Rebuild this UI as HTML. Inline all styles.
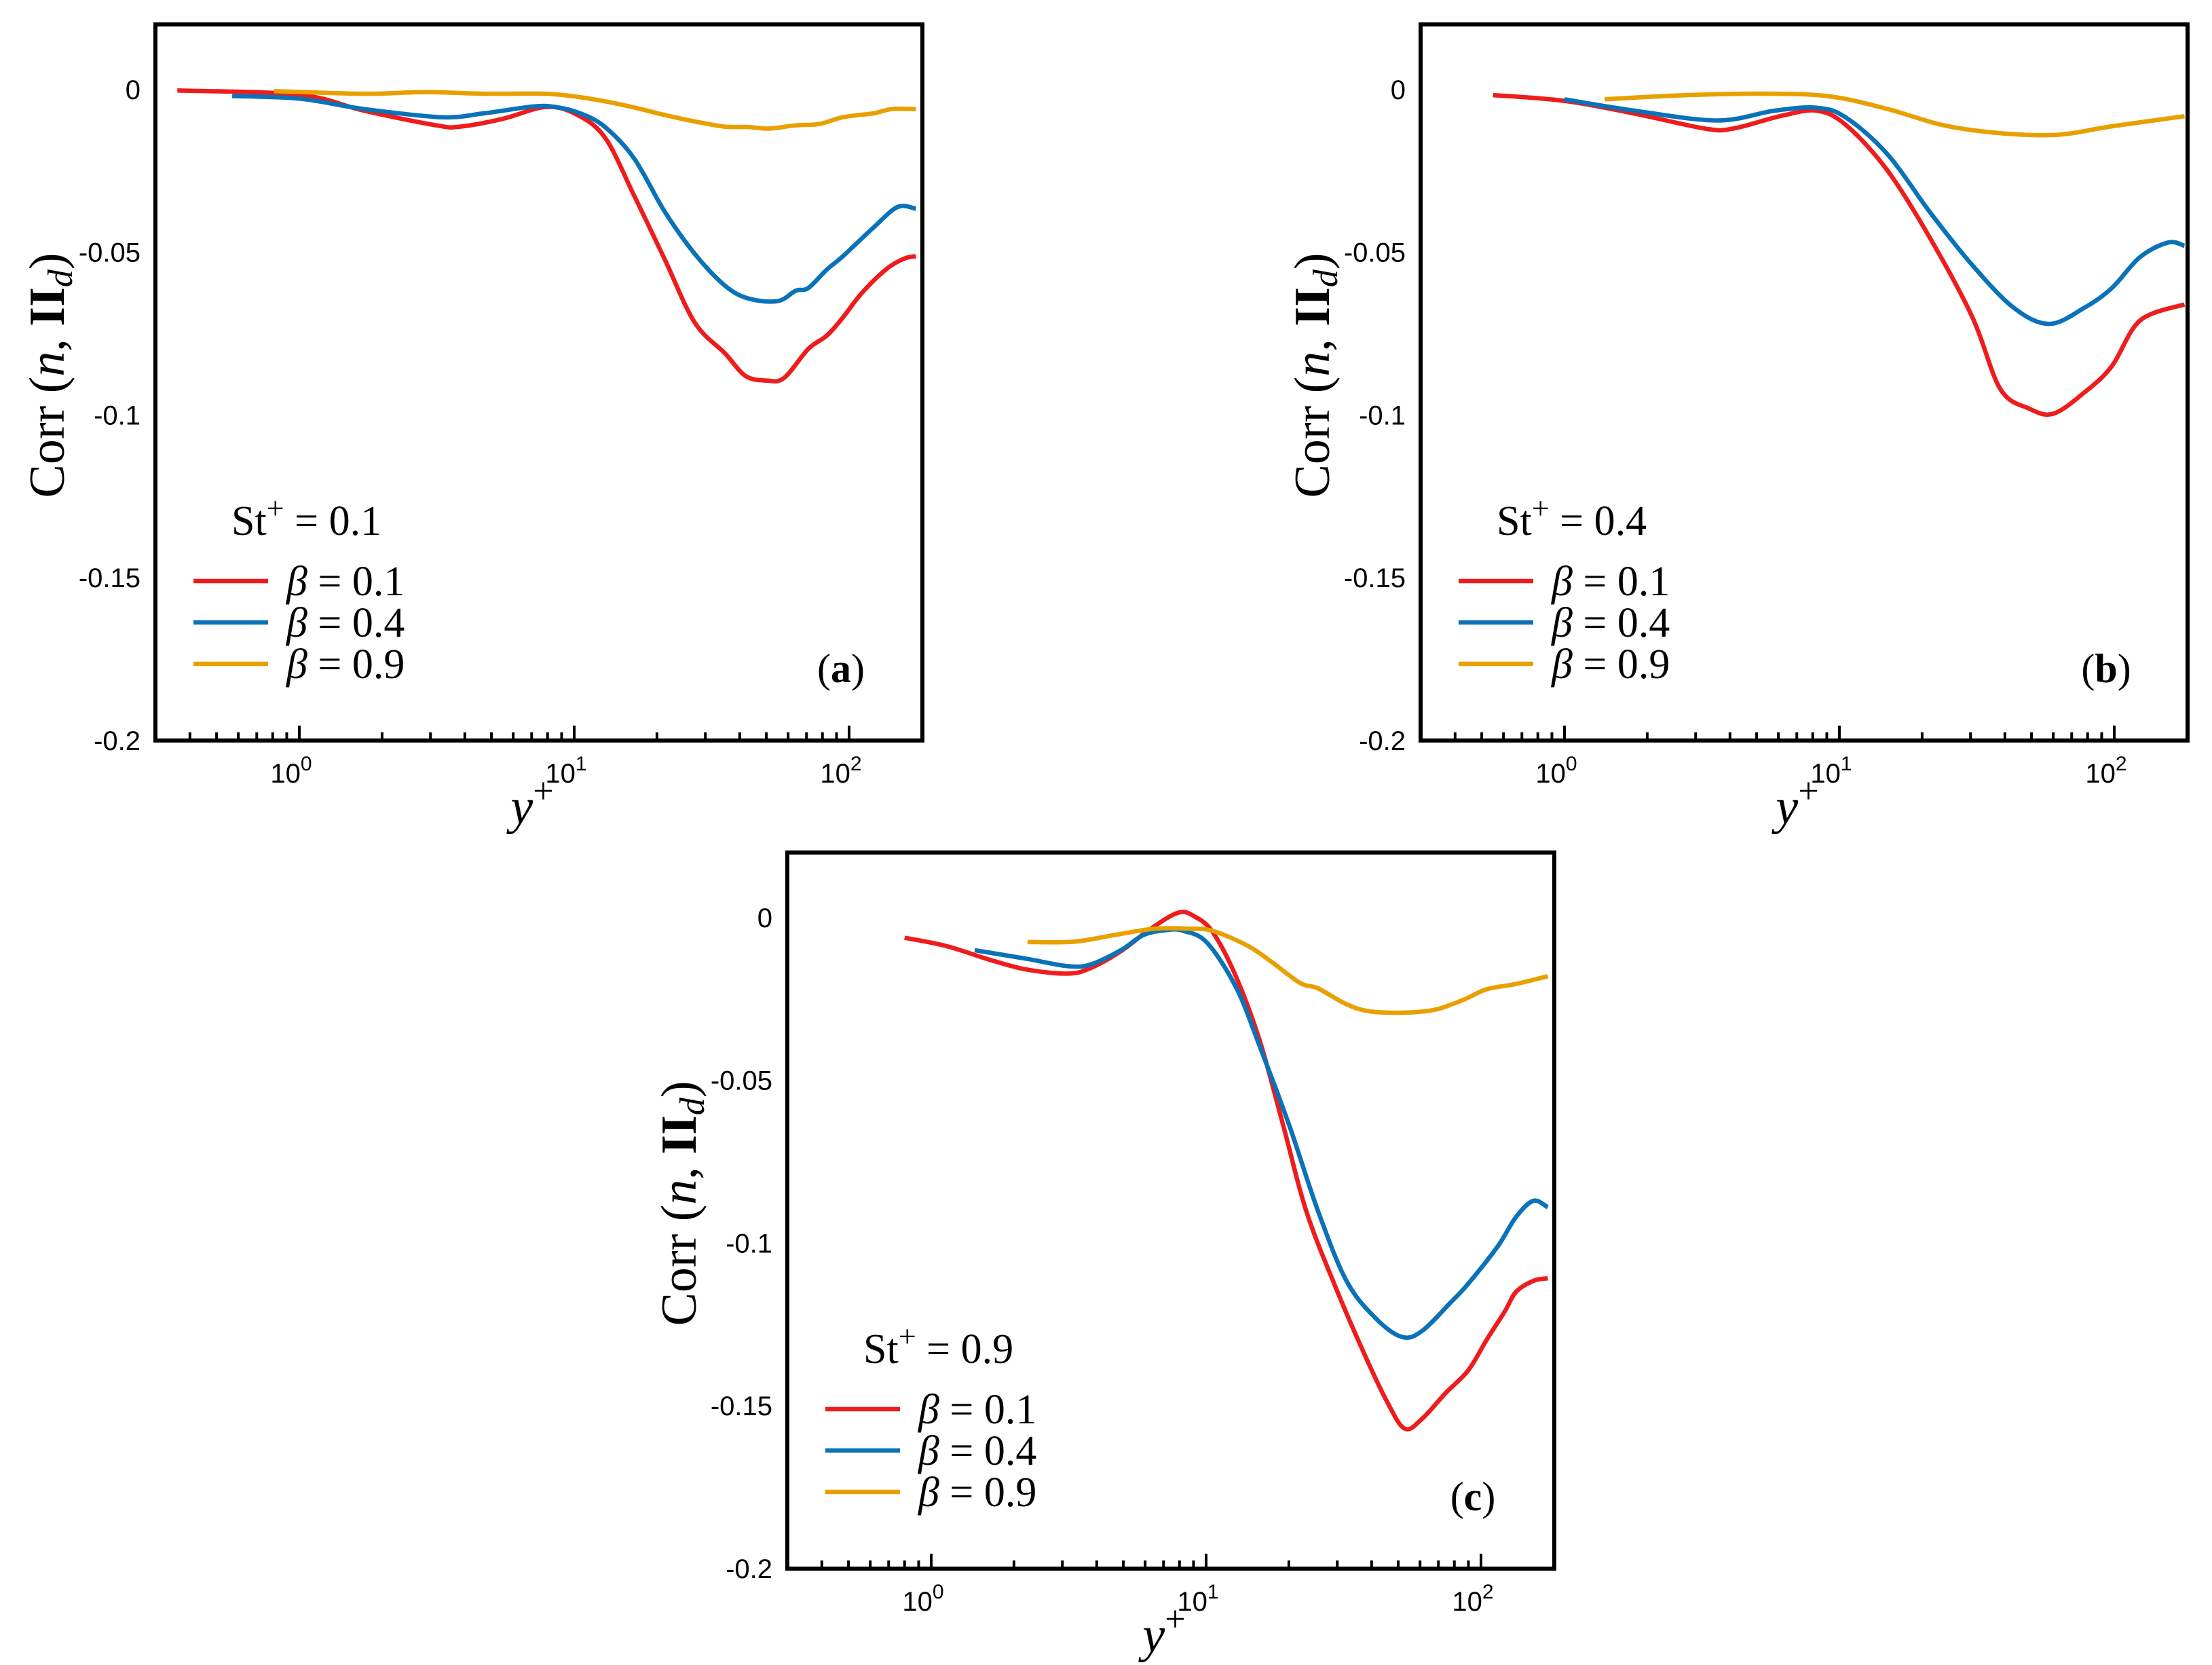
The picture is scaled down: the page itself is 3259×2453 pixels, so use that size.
<!DOCTYPE html>
<html><head><meta charset="utf-8">
<style>
html,body{margin:0;padding:0;background:#fff;}
svg{display:block;}
.tick{font-family:"Liberation Sans",sans-serif;font-size:40px;fill:#000;}
.ser{font-family:"Liberation Serif",serif;fill:#000;}
</style></head>
<body>
<svg id="fig" width="3259" height="2453" viewBox="0 0 3259 2453" xmlns="http://www.w3.org/2000/svg"></svg>
<script>
// ---------- data ----------
const panelLabels = ["(a)", "(b)", "(c)"];
const stLabels = ["0.1", "0.4", "0.9"];
const betaLabels = ["0.1", "0.4", "0.9"];
const seriesColors = ["#ee1c1c", "#0a72b8", "#e8a000"];
const yTicks = [0, -0.05, -0.1, -0.15, -0.2];
const yTickLabels = ["0", "-0.05", "-0.1", "-0.15", "-0.2"];
const xDecades = [0, 1, 2];

// panel a
const aRedX = [0.36,1,1.72,3.15,3.84,5.5,7.8,10,12.9,16.5,21.3,27.4,35.3,42,50,58,71,83,95,111,136,158,175];
const aRedY = [-0.0003,-0.0016,-0.0065,-0.011,-0.0114,-0.009,-0.0054,-0.0073,-0.0146,-0.0325,-0.052,-0.0715,-0.081,-0.088,-0.0894,-0.0886,-0.0797,-0.0756,-0.07,-0.0626,-0.0553,-0.052,-0.0512];
const aBlueX = [0.57,1,1.72,3.3,4.7,7.1,8.6,10.5,12.9,16.5,21.3,27.4,35.3,43,55,64,71,83,95,123,150,175];
const aBlueY = [-0.002,-0.0028,-0.006,-0.0085,-0.0073,-0.0052,-0.0054,-0.0073,-0.0114,-0.0211,-0.0374,-0.0504,-0.0602,-0.0642,-0.065,-0.0618,-0.061,-0.0553,-0.0512,-0.0423,-0.0361,-0.0366];
const aYelX = [0.81,1.72,2.85,4.7,7.8,10,12.9,16.5,21.3,27.4,35.3,43,51,64,78,95,123,143,175];
const aYelY = [-0.0005,-0.0013,-0.0008,-0.0013,-0.0013,-0.0021,-0.0036,-0.0055,-0.0078,-0.0098,-0.0114,-0.0115,-0.012,-0.011,-0.0106,-0.0085,-0.0073,-0.006,-0.006];

// panel b
const bRedX = [0.55,1,1.8,3.25,4.1,6.2,8.3,10.6,15,21.5,30.5,38.5,49,60,78,98,124,180];
const bRedY = [-0.0017,-0.0035,-0.0074,-0.012,-0.012,-0.008,-0.0065,-0.011,-0.025,-0.046,-0.07,-0.092,-0.098,-0.0996,-0.093,-0.085,-0.071,-0.066];
const bBlueX = [1,1.8,3.6,5.8,8.3,10.6,15,21.5,30.5,43,58,78,98,124,157,180];
const bBlueY = [-0.003,-0.0065,-0.0095,-0.0065,-0.0056,-0.0087,-0.02,-0.038,-0.054,-0.067,-0.072,-0.067,-0.061,-0.0515,-0.047,-0.048];
const bYelX = [1.4,2.8,5.8,9.4,15,24,38.5,62,98,180];
const bYelY = [-0.003,-0.0017,-0.0013,-0.0022,-0.006,-0.011,-0.0134,-0.0139,-0.0113,-0.0082];

// panel c
const cRedX = [0.8,1.13,1.67,2.24,3.14,3.8,4.9,6.2,7.9,9.1,10.6,12.9,15.7,19.1,23.1,29.4,37.6,45.7,52.8,61,74.5,90,105,122,134,155,175];
const cRedY = [-0.0062,-0.0087,-0.0132,-0.016,-0.0172,-0.0155,-0.0103,-0.0038,0.0015,0.0003,-0.0046,-0.0185,-0.038,-0.064,-0.09,-0.113,-0.134,-0.149,-0.157,-0.154,-0.146,-0.139,-0.1296,-0.121,-0.115,-0.1116,-0.1108];
const cBlueX = [1.44,2.24,3.14,3.8,4.9,5.9,7.2,8.3,10.1,12.9,15.7,20.1,25.5,32.4,41.3,51.5,61,78,90,115,134,155,175];
const cBlueY = [-0.01,-0.0127,-0.0149,-0.0144,-0.01,-0.0054,-0.0038,-0.0041,-0.0078,-0.0217,-0.0397,-0.064,-0.09,-0.1116,-0.123,-0.1288,-0.127,-0.118,-0.1124,-0.101,-0.092,-0.087,-0.089];
const cYelX = [2.24,3.3,4.6,6.5,8.7,10.6,14.2,17.3,22,25.5,32.4,39.4,52.8,68,86,105,134,175];
const cYelY = [-0.0075,-0.0074,-0.0054,-0.0034,-0.0034,-0.0041,-0.0087,-0.0136,-0.0201,-0.0217,-0.0266,-0.0288,-0.0292,-0.0283,-0.0253,-0.022,-0.0204,-0.018];

const panelSeries = [
  [[aRedX,aRedY],[aBlueX,aBlueY],[aYelX,aYelY]],
  [[bRedX,bRedY],[bBlueX,bBlueY],[bYelX,bYelY]],
  [[cRedX,cRedY],[cBlueX,cBlueY],[cYelX,cYelY]]
];

// ---------- layout ----------
const NS = "http://www.w3.org/2000/svg";
const svg = document.getElementById("fig");
const panelOrigins = [[229,36],[2093,36],[1160,1256]];
const W = 1130, H = 1055;
const decPx = 405, x0off = 212;
const yMax = 0.02, yMin = -0.2;

function mk(tag, attrs, parent){
  const e = document.createElementNS(NS, tag);
  for (const k in attrs) e.setAttribute(k, attrs[k]);
  (parent||svg).appendChild(e);
  return e;
}
function smoothPath(pts){
  let d = "M" + pts[0][0].toFixed(1) + "," + pts[0][1].toFixed(1);
  for (let i = 0; i < pts.length - 1; i++) {
    const p0 = pts[Math.max(i-1,0)], p1 = pts[i], p2 = pts[i+1], p3 = pts[Math.min(i+2,pts.length-1)];
    const c1x = p1[0] + (p2[0]-p0[0])/6, c1y = p1[1] + (p2[1]-p0[1])/6;
    const c2x = p2[0] - (p3[0]-p1[0])/6, c2y = p2[1] - (p3[1]-p1[1])/6;
    d += "C" + c1x.toFixed(1) + "," + c1y.toFixed(1) + " " + c2x.toFixed(1) + "," + c2y.toFixed(1) + " " + p2[0].toFixed(1) + "," + p2[1].toFixed(1);
  }
  return d;
}

panelSeries.forEach((series, p) => {
  const [L, T] = panelOrigins[p];
  const g = mk("g", {});
  
  
  const xs = v => L + x0off + Math.log10(v) * decPx;
  const ys = v => T + (yMax - v) / (yMax - yMin) * H;

  const clipId = "clip" + p;
  const cp = mk("clipPath", {id: clipId}, g);
  mk("rect", {x: L, y: T, width: W, height: H}, cp);

  series.forEach((s, i) => {
    const [xa, ya] = s;
    const pts = xa.map((xv, j) => [xs(xv), ys(ya[j])]);
    const path = mk("path", {d: smoothPath(pts), fill: "none", stroke: seriesColors[i], "stroke-width": 6.5, "stroke-linejoin": "round", "clip-path": "url(#" + clipId + ")"}, g);
    
    
  });

  const fr = mk("rect", {x: L, y: T, width: W, height: H, fill: "none", stroke: "#000", "stroke-width": 6}, g);
  
  

  for (let dcd = -1; dcd <= 2; dcd++) {
    for (let m = 1; m <= 9; m++) {
      const v = m * Math.pow(10, dcd);
      const px = xs(v);
      if (px < L + 3 || px > L + W - 3) continue;
      const len = m === 1 ? 22 : 12;
      const t = mk("line", {x1: px, x2: px, y1: T + H, y2: T + H - len, stroke: "#000", "stroke-width": 4}, g);
      
      
    }
  }
  xDecades.forEach(dcd => {
    const px = xs(Math.pow(10, dcd));
    const tx = mk("text", {x: px - 12, y: T + H + 62, class: "tick", "text-anchor": "middle"}, g);
    
    
    tx.textContent = "10";
    const sup = mk("tspan", {dy: -18, "font-size": 30}, tx);
    sup.textContent = String(dcd);
  });

  yTicks.forEach((v, i) => {
    const ty = mk("text", {x: L - 22, y: ys(v) + 14, class: "tick", "text-anchor": "end"}, g);
    
    
    ty.textContent = yTickLabels[i];
  });

  const xt = mk("text", {x: L + 555, y: T + H + 122, class: "ser", "font-size": 74, "font-style": "italic", "text-anchor": "middle"}, g);
  
  
  xt.textContent = "y";
  const xts = mk("tspan", {dy: -30, "font-size": 54, "font-style": "normal"}, xt);
  xts.textContent = "+";

  const yt = mk("text", {x: 0, y: 0, class: "ser", "font-size": 74, "text-anchor": "middle", transform: "translate(" + (L - 135) + "," + (T + 517) + ") rotate(-90)"}, g);
  
  
  yt.textContent = "Corr (";
  const n = mk("tspan", {"font-style": "italic"}, yt); n.textContent = "n";
  const c1 = mk("tspan", {}, yt); c1.textContent = ", ";
  const ii = mk("tspan", {"font-weight": "bold"}, yt); ii.textContent = "II";
  const dd = mk("tspan", {"font-style": "italic", "font-size": 52, dy: 12}, yt); dd.textContent = "d";
  const c2 = mk("tspan", {dy: -12}, yt); c2.textContent = ")";

  const st = mk("text", {x: L + 112, y: T + 752, class: "ser", "font-size": 62}, g);
  
  
  st.textContent = "St";
  const sts = mk("tspan", {dy: -24, "font-size": 46}, st); sts.textContent = "+";
  const ste = mk("tspan", {dy: 24}, st); ste.textContent = " = " + stLabels[p];

  betaLabels.forEach((b, i) => {
    const ly = T + 820 + i * 61;
    const ln = mk("line", {x1: L + 56, x2: L + 166, y1: ly, y2: ly, stroke: seriesColors[i], "stroke-width": 6.5}, g);
    
    
    const lt = mk("text", {x: L + 193, y: ly + 21, class: "ser", "font-size": 62}, g);
    
    
    const be = mk("tspan", {"font-style": "italic"}, lt); be.textContent = "β";
    const rest = mk("tspan", {}, lt); rest.textContent = " = " + b;
  });

  const pl = mk("text", {x: L + 1010, y: T + 969, class: "ser", "font-size": 60, "text-anchor": "middle"}, g);
  
  
  pl.textContent = "(";
  const plb = mk("tspan", {"font-weight": "bold"}, pl); plb.textContent = "abc"[p];
  const plc = mk("tspan", {}, pl); plc.textContent = ")";
});
</script>
</body></html>
